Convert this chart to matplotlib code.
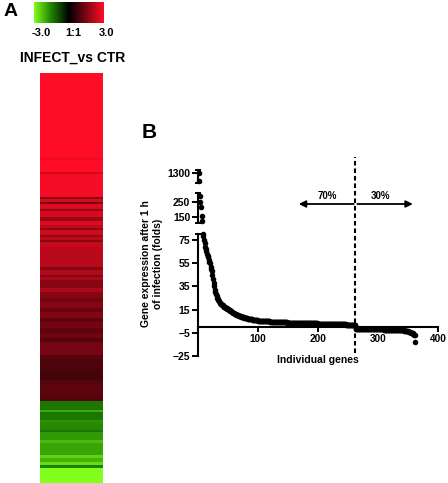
import numpy as np
import matplotlib
matplotlib.use("Agg")
import matplotlib.pyplot as plt
from matplotlib.colors import LinearSegmentedColormap
from matplotlib.transforms import blended_transform_factory

plt.rcParams["font.family"] = ["Liberation Sans", "DejaVu Sans"]
plt.rcParams["font.weight"] = "bold"
plt.rcParams["axes.labelweight"] = "bold"

# ---- panel A: heatmap rows as runs (value, number of pixel rows) ----
heat_values = [3.0, 2.8, 3.0, 2.4, 2.9, 1.6, 2.5, 1.4, 2.6, 1.7, 2.5, 1.8, 2.6,
               2.3, 1.6, 2.4, 1.7, 2.2, 1.6, 2.3, 2.2, 1.5, 2.1, 1.5, 2.0, 1.6,
               1.6, 2.0, 1.6, 1.3, 1.6, 1.2, 1.5, 1.1, 1.4, 1.1, 1.3, 1.0, 1.4,
               1.0, 0.9, 0.8, 1.0, 1.1, 1.0,
               -1.4, -2.0, -1.4, -1.7, -1.6, -1.4, -1.8, -2.2, -1.9, -2.5, -2.1,
               -2.6, -1.5, -3.0]
heat_rows = [85, 2, 12, 2, 23, 2, 3, 2, 5, 2, 6, 4, 4,
             3, 2, 5, 2, 3, 2, 5, 20, 3, 5, 2, 3, 2,
             6, 4, 6, 4, 6, 4, 6, 4, 6, 5, 5, 4, 13,
             5, 10, 10, 5, 10, 6,
             9, 2, 8, 3, 7, 2, 8, 3, 12, 3, 4,
             3, 3, 15]
scale_labels = ["-3.0", "1:1", "3.0"]

# ---- panel B: fold change per gene (sorted) ----
up_fold = [
    1300, 1180,
    290, 250, 215, 160, 125,
    80, 78, 75, 72, 69, 67, 65, 63, 61, 60, 58, 56, 55,
    52, 50, 48, 45, 41, 38, 35, 32, 30, 28,
    26.5, 25, 24, 23, 22, 21, 20.5, 20, 19.5, 19,
    18.5, 18, 17.6, 17.2, 16.8, 16.5, 16.2, 15.9, 15.6, 15.3,
    15, 14.6, 14.2, 13.8, 13.4, 13, 12.7, 12.4, 12.1, 11.8,
    11.5, 11.2, 10.9, 10.6, 10.3, 10.1, 9.9, 9.7, 9.5, 9.3,
    9.1, 8.9, 8.8, 8.6, 8.4, 8.2, 8.1, 7.9, 7.8, 7.6,
    7.5, 7.4, 7.2, 7.1, 7.0, 6.9, 6.8, 6.7, 6.6, 6.5,
    6.4, 6.3, 6.2, 6.1, 6.0, 5.9, 5.8, 5.7, 5.6, 5.5,
    5.4, 5.4, 5.3, 5.3, 5.2, 5.2, 5.1, 5.1, 5.0, 5.0,
    4.9, 4.9, 4.9, 4.8, 4.8, 4.8, 4.7, 4.7, 4.7, 4.6,
    4.6, 4.6, 4.5, 4.5, 4.5, 4.4, 4.4, 4.4, 4.3, 4.3,
    4.3, 4.3, 4.2, 4.2, 4.2, 4.2, 4.1, 4.1, 4.1, 4.1,
    4.0, 4.0, 4.0, 4.0, 3.9, 3.9, 3.9, 3.9, 3.8, 3.8,
    3.8, 3.8, 3.8, 3.7, 3.7, 3.7, 3.7, 3.7, 3.6, 3.6,
    3.6, 3.6, 3.6, 3.5, 3.5, 3.5, 3.5, 3.5, 3.4, 3.4,
    3.4, 3.4, 3.4, 3.4, 3.3, 3.3, 3.3, 3.3, 3.3, 3.3,
    3.2, 3.2, 3.2, 3.2, 3.2, 3.2, 3.1, 3.1, 3.1, 3.1,
    3.1, 3.1, 3.0, 3.0, 3.0, 3.0, 3.0, 3.0, 2.9, 2.9,
    2.9, 2.9, 2.9, 2.9, 2.8, 2.8, 2.8, 2.8, 2.8, 2.8,
    2.7, 2.7, 2.7, 2.7, 2.7, 2.7, 2.6, 2.6, 2.6, 2.6,
    2.6, 2.6, 2.5, 2.5, 2.5, 2.5, 2.5, 2.5, 2.4, 2.4,
    2.4, 2.4, 2.4, 2.4, 2.3, 2.3, 2.3, 2.3, 2.3, 2.3,
    2.2, 2.2, 2.2, 2.2, 2.2, 2.2, 2.1, 2.1, 2.1, 2.1,
    2.1, 2.0, 2.0, 2.0, 2.0, 1.9, 1.9, 1.9, 1.8, 1.8,
    1.7, 1.6,
]
down_fold = [
    -1.5, -1.5, -1.5, -1.5, -1.5, -1.5, -1.5, -1.6, -1.6, -1.6,
    -1.6, -1.6, -1.6, -1.6, -1.7, -1.7, -1.7, -1.7, -1.7, -1.7,
    -1.7, -1.7, -1.8, -1.8, -1.8, -1.8, -1.8, -1.8, -1.8, -1.9,
    -1.9, -1.9, -1.9, -1.9, -1.9, -2.0, -2.0, -2.0, -2.0, -2.0,
    -2.0, -2.0, -2.1, -2.1, -2.1, -2.1, -2.1, -2.2, -2.2, -2.2,
    -2.2, -2.2, -2.3, -2.3, -2.3, -2.3, -2.4, -2.4, -2.4, -2.4,
    -2.4, -2.5, -2.5, -2.5, -2.5, -2.6, -2.6, -2.6, -2.6, -2.7,
    -2.7, -2.7, -2.8, -2.8, -2.8, -2.9, -2.9, -2.9, -3.0, -3.0,
    -3.0, -3.1, -3.2, -3.3, -3.4, -3.5, -3.6, -3.8, -4.0, -4.2,
    -4.4, -4.6, -4.8, -5.0, -5.3, -5.6, -6.0, -6.5, -7.0,
    -13.0,
]
pct_labels = ["70%", "30%"]

W, H = 448, 483


def px_rect(x0, y0, x1, y1):
    return [x0 / W, 1 - y1 / H, (x1 - x0) / W, (y1 - y0) / H]


fig = plt.figure(figsize=(W / 100, H / 100), dpi=100)
cmap = LinearSegmentedColormap.from_list(
    "gbr", [(0.0, (0.5, 1.0, 0.1)), (0.25, (0.12, 0.5, 0.0)),
            (0.5, (0, 0, 0)), (1.0, (1.0, 0.05, 0.15))])

# color scale bar
ax_cb = fig.add_axes(px_rect(34, 2, 103, 23))
ax_cb.imshow(np.linspace(-3, 3, 256)[None, :], aspect="auto", cmap=cmap,
             vmin=-3, vmax=3)
ax_cb.axis("off")
for lab, xp in zip(scale_labels, [41, 73, 107]):
    fig.text(xp / W, 1 - 33 / H, lab, ha="center", va="center", fontsize=8)
fig.text(73 / W, 1 - 58 / H, "INFECT_vs CTR", ha="center", va="center",
         fontsize=10)
fig.text(4 / W, 1 - 11 / H, "A", ha="left", va="center", fontsize=14)

# heatmap strip
heat = np.repeat(heat_values, heat_rows)
ax_hm = fig.add_axes(px_rect(40, 73, 103, 483))
ax_hm.imshow(heat[:, None], aspect="auto", cmap=cmap, vmin=-3, vmax=3,
             interpolation="nearest")
ax_hm.axis("off")

# ---- panel B ----
fold = np.array(up_fold + down_fold)
genes = np.arange(1, len(fold) + 1)

ax_lo = fig.add_axes(px_rect(198, 234, 438, 356))
ax_mid = fig.add_axes(px_rect(198, 193, 438, 223))
ax_top = fig.add_axes(px_rect(198, 170, 438, 183))
segs = [(ax_lo, (-25, 80), [-25, -5, 15, 35, 55, 75]),
        (ax_mid, (110, 310), [150, 250]),
        (ax_top, (1150, 1340), [1300])]

for ax, (lo, hi), ticks in segs:
    ax.set_xlim(0, 400)
    ax.set_ylim(lo, hi)
    ax.patch.set_alpha(0)
    for s in ["top", "right"]:
        ax.spines[s].set_visible(False)
    ax.spines["left"].set_linewidth(1.5)
    ax.set_yticks(ticks)
    ax.set_yticks([lo, hi], minor=True)
    ax.tick_params(axis="y", which="major", direction="out", length=4,
                   width=1.4, labelsize=7.5, pad=1.5)
    ax.tick_params(axis="y", which="minor", direction="inout", length=5,
                   width=1.4)
    m = (fold >= lo) & (fold <= hi)
    ax.plot(genes[m], fold[m], "o", color="black", markersize=4.0,
            markeredgewidth=0, clip_on=False)
    if ax is not ax_lo:
        ax.spines["bottom"].set_visible(False)
        ax.set_xticks([])

ax_lo.spines["bottom"].set_position(("data", 0))
ax_lo.spines["bottom"].set_linewidth(1.5)
ax_lo.set_xticks([100, 200, 300, 400])
ax_lo.tick_params(axis="x", direction="out", length=3.5, width=1.4,
                  labelsize=7.2, pad=1.5)
ax_lo.set_xlabel("Individual genes", fontsize=7.5, labelpad=8)

fig.text(152 / W, 1 - 264 / H, "Gene expression after 1 h\nof infection (folds)",
         rotation=90, ha="center", va="center", fontsize=7.5,
         multialignment="center")
fig.text(142 / W, 1 - 133 / H, "B", ha="left", va="center", fontsize=15)

# split between up- and down-regulated genes
split = len(up_fold) - 0.5
tr = blended_transform_factory(ax_lo.transData, fig.transFigure)
ax_lo.plot([split, split], [1 - 353 / H, 1 - 157 / H], transform=tr,
           color="black", lw=1.5, ls=(0, (2.2, 1.4)), clip_on=False)
ya = 1 - 204 / H
ax_lo.annotate("", xy=(168, ya), xytext=(split - 2, ya), xycoords=tr,
               textcoords=tr, annotation_clip=False,
               arrowprops=dict(arrowstyle="-|>", lw=1.3, color="black",
                               mutation_scale=10, shrinkA=0, shrinkB=0))
ax_lo.annotate("", xy=(358, ya), xytext=(split + 4, ya), xycoords=tr,
               textcoords=tr, annotation_clip=False,
               arrowprops=dict(arrowstyle="-|>", lw=1.3, color="black",
                               mutation_scale=10, shrinkA=0, shrinkB=0))
ax_lo.text(216, 1 - 196 / H, pct_labels[0], transform=tr, ha="center",
           va="center", fontsize=7)
ax_lo.text(304, 1 - 196 / H, pct_labels[1], transform=tr, ha="center",
           va="center", fontsize=7)

fig.savefig("out.png", dpi=100)
